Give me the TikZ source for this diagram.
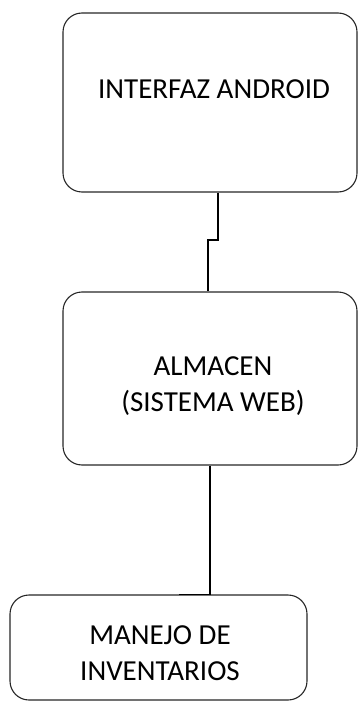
\documentclass[tikz,border=0pt]{standalone}
\usepackage{fontspec}
\setmainfont{Carlito}
\definecolor{boxline}{HTML}{262626}

\begin{document}
\begin{tikzpicture}[x=1pt,y=-1pt,
  caja/.style={draw=boxline,line width=1.1pt,rounded corners=19pt,inner sep=0pt},
  texto/.style={font=\fontsize{29}{36}\selectfont,align=center,inner sep=0pt},
  enlace/.style={draw=black,line width=1.3pt}]
\useasboundingbox (0,0) rectangle (359,703);
% cajas
\node[caja,minimum width=294pt,minimum height=179pt] (android) at (210,102.5) {};
\node[caja,minimum width=294pt,minimum height=173pt] (almacen) at (210,378.5) {};
\node[caja,minimum width=297pt,minimum height=105pt] (manejo) at (158.5,647.5) {};
% textos
\node[texto] (tandroid) at (214,89) {INTERFAZ ANDROID};
\node[texto] (talmacen) at (213,386) {ALMACEN\\(SISTEMA WEB)};
\node[texto] (tmanejo) at (160,653) {MANEJO DE\\INVENTARIOS};
% enlaces
\coordinate (quiebre) at (213,240);
\draw[enlace] ([xshift=8pt]android.south) |- (quiebre) -| ([xshift=-2pt]almacen.north);
\draw[enlace] (almacen.south) |- ([xshift=20pt]manejo.north);
\end{tikzpicture}
\end{document}
